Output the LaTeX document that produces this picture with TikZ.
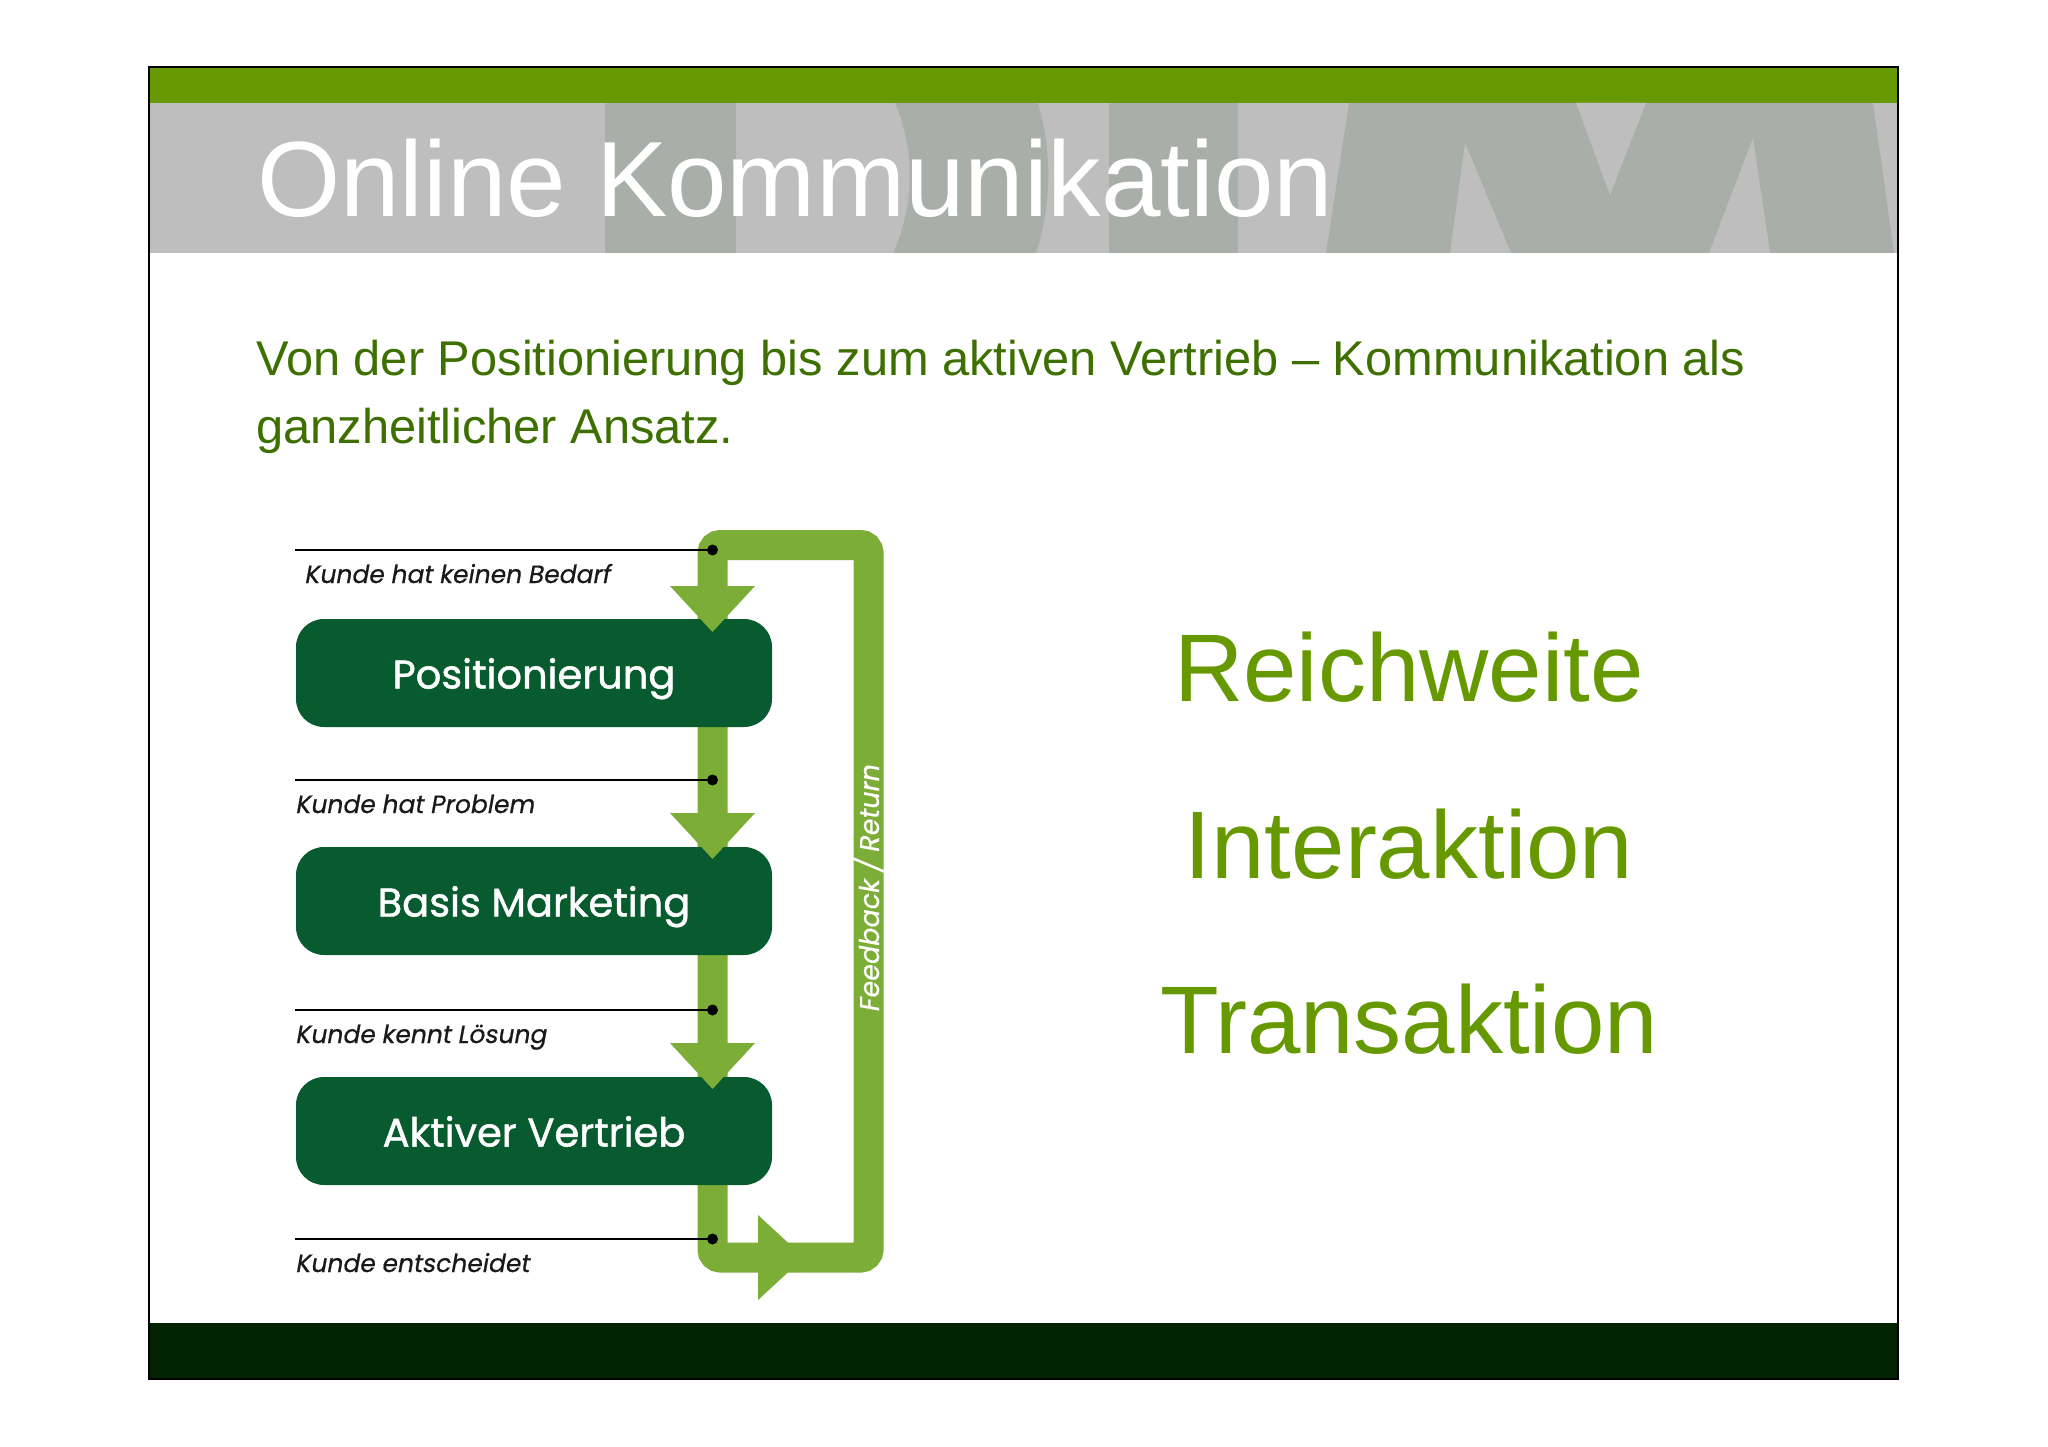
\documentclass[tikz,border=0pt]{standalone}
\usepackage{fontspec}
\setmainfont{Liberation Sans}
\newfontfamily\boxfont[FakeBold=1.2]{Poppins}
\newfontfamily\notefont[FakeSlant=0.18, FakeBold=0.6]{Poppins}
\definecolor{topgreen}{HTML}{669900}
\definecolor{headgray}{HTML}{BEBEBE}
\definecolor{shadegray}{HTML}{A8AFA8}
\definecolor{textgreen}{HTML}{3D7000}
\definecolor{loopgreen}{HTML}{7CAD37}
\definecolor{stagegreen}{HTML}{075B2E}
\definecolor{footgreen}{HTML}{022402}

\begin{document}
\begin{tikzpicture}[x=1pt, y=-1pt, stage/.style = {shape=rectangle, fill=stagegreen, rounded corners=28pt, minimum width=476pt, minimum height=108pt, text height=31pt, text depth=0pt, text=white, font=\boxfont\fontsize{40}{48}\selectfont}, kunde/.style = {anchor=base west, inner sep=0pt, text=black!90, font=\notefont\fontsize{25}{30}\selectfont}, word/.style = {anchor=base, inner sep=0pt, text=topgreen, font=\fontsize{96}{110}\selectfont}, lead/.style = {anchor=base west, inner sep=0pt, text=textgreen, font=\fontsize{48.8}{60}\selectfont}]
\useasboundingbox (0,0) rectangle (2048,1447);
\fill[white] (0,0) rectangle (2048,1447);

% header band
\fill[topgreen] (149,67) rectangle (1898,103);
\fill[headgray] (149,103) rectangle (1898,253);
\fill[shadegray] (605,103) rectangle (736,253);
\fill[shadegray] (895,103) .. controls (915,150) and (915,205) .. (893,253) -- (1036,253) .. controls (1052,205) and (1052,150) .. (1038,103) -- cycle;
\fill[shadegray] (1109,103) rectangle (1238,253);
\fill[shadegray] (1349,103) -- (1873,103) -- (1894,253) -- (1326,253) -- cycle;
\fill[headgray] (1450,253) -- (1465,143) -- (1511,253) -- cycle;
\fill[headgray] (1576,103) -- (1646,103) -- (1610,195) -- cycle;
\fill[headgray] (1709,253) -- (1753,138) -- (1770,253) -- cycle;
\node[anchor=base west, inner sep=0pt, text=white, font=\fontsize{107}{120}\selectfont] (title) at (257,217) {Online Kommunikation};

\node[lead] (lead1) at (256,375) {Von der Positionierung bis zum aktiven Vertrieb – Kommunikation als};
\node[lead] (lead2) at (256,443) {ganzheitlicher Ansatz.};

% feedback loop
\coordinate (loopnw) at (712.5,545);
\coordinate (loopse) at (868.5,1257.5);
\draw[loopgreen, line width=30pt, rounded corners=8pt] (loopnw) rectangle (loopse);

\node[stage] (pos) at (534,673) {Positionierung};
\node[stage] (basis) at (534,901) {Basis Marketing};
\node[stage] (aktiv) at (534,1131) {Aktiver Vertrieb};

\foreach \ya in {586,813,1043}
  \fill[loopgreen] (670,\ya) -- (755,\ya) -- (712.5,\ya+46) -- cycle;
\fill[loopgreen] (758,1215) -- (804,1257.5) -- (758,1300) -- cycle;

% customer states
\foreach \yl/\xl/\txt [count=\i] in {550/304/Kunde hat keinen Bedarf, 780/295/Kunde hat Problem, 1010/295/Kunde kennt Lösung, 1239/295/Kunde entscheidet} {
  \coordinate (dot\i) at (712.5,\yl);
  \draw[line width=2.5pt] (295,\yl) -- (dot\i);
  \fill (dot\i) circle (5.5pt);
  \node[kunde] (state\i) at (\xl,\yl+33) {\txt};
}

\node[rotate=90, inner sep=0pt, text=white, font=\notefont\fontsize{27}{30}\selectfont] (feedback) at (868.5,889) {Feedback / Return};

\node[word] (reich) at (1409,701) {Reichweite};
\node[word] (inter) at (1409,878) {Interaktion};
\node[word] (trans) at (1409,1053) {Transaktion};

% footer and frame
\fill[footgreen] (149,1323) rectangle (1898,1379);
\draw[line width=2pt] (149,67) rectangle (1898,1379);
\end{tikzpicture}
\end{document}
